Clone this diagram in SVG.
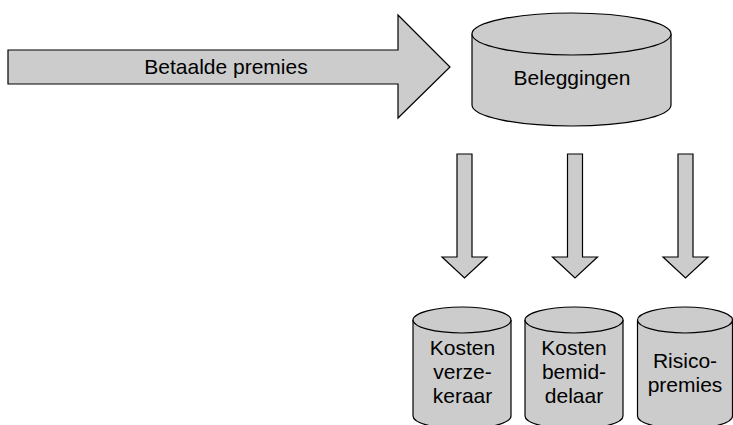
<svg xmlns="http://www.w3.org/2000/svg" width="733" height="425" viewBox="0 0 733 425">
<style>
.s{fill:#cccccc;stroke:#000;stroke-width:1.2;stroke-linejoin:miter}
.t{font-family:"Liberation Sans",Arial,sans-serif;font-size:21px;fill:#000;text-anchor:middle}
</style>
<rect width="733" height="425" fill="#fff"/>
<g id="connectors">
<path class="s" d="M8,50 H398 V15 L450,67 L398,118 V84 H8 Z"/>
<text class="t" x="226" y="74">Betaalde premies</text>
<path class="s" d="M457,154 H472 V257 H487 L464.5,278 L442,257 H457 Z"/>
<path class="s" d="M567.5,154 H582.5 V257 H597.5 L575,278 L552.5,257 H567.5 Z"/>
<path class="s" d="M678,154 H693 V257 H708 L685.5,278 L663,257 H678 Z"/>
</g>
<g id="beleggingen">
<path class="s" d="M472,34 V105 A99.5,21 0 0 0 671,105 V34"/>
<ellipse class="s" cx="571.5" cy="34" rx="99.5" ry="21"/>
<text class="t" x="572" y="85">Beleggingen</text>
</g>
<g id="kosten-verzekeraar">
<path class="s" d="M413,320 V416 A49,13 0 0 0 511,416 V320"/>
<ellipse class="s" cx="462" cy="320" rx="49" ry="13"/>
<text class="t" x="462.5" y="355">Kosten</text>
<text class="t" x="462.5" y="379">verze-</text>
<text class="t" x="462.5" y="403">keraar</text>
</g>
<g id="kosten-bemiddelaar">
<path class="s" d="M525,320 V416 A49,13 0 0 0 623,416 V320"/>
<ellipse class="s" cx="574" cy="320" rx="49" ry="13"/>
<text class="t" x="574" y="355">Kosten</text>
<text class="t" x="574" y="379">bemid-</text>
<text class="t" x="574" y="403">delaar</text>
</g>
<g id="risicopremies">
<path class="s" d="M637.5,320 V416 A47.5,13 0 0 0 732.5,416 V320"/>
<ellipse class="s" cx="685" cy="320" rx="47.5" ry="13"/>
<text class="t" x="685" y="368">Risico-</text>
<text class="t" x="685" y="392">premies</text>
</g>
</svg>
